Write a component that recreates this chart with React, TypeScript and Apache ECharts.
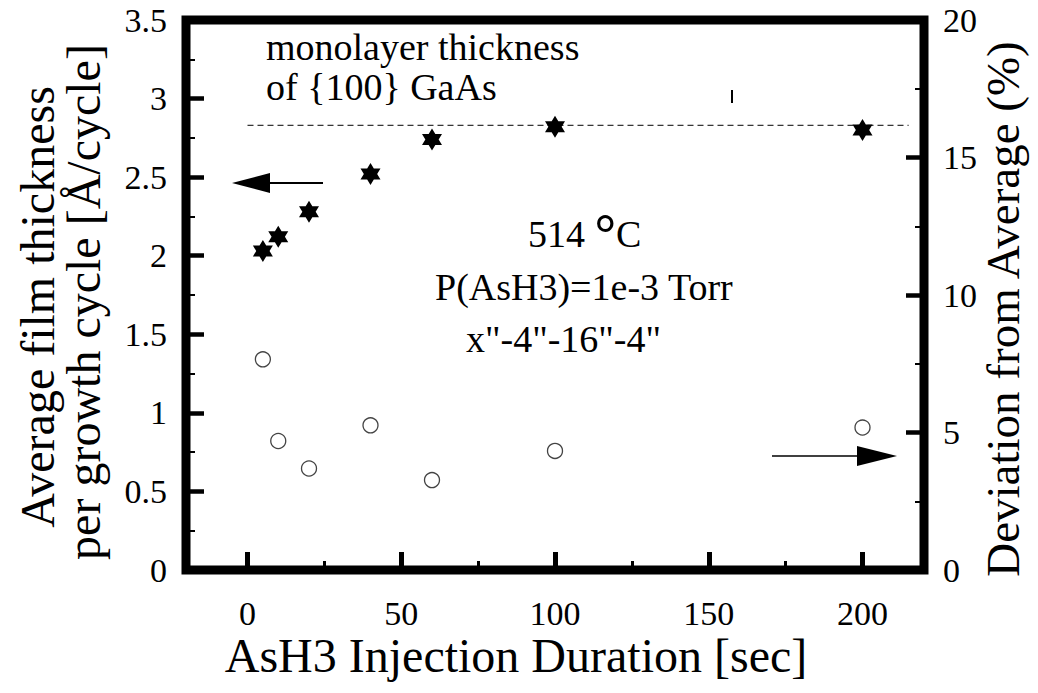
import React, { useEffect, useRef } from "react";
import * as echarts from "echarts";

// AsH3 injection duration (sec) for each growth run
const injectionDuration = [5, 10, 20, 40, 60, 100, 200];
// Average film thickness per growth cycle (Å/cycle), left axis
const filmThickness = [2.03, 2.12, 2.28, 2.52, 2.74, 2.82, 2.8];
// Deviation from average (%), right axis
const deviation = [7.66, 4.69, 3.69, 5.26, 3.27, 4.33, 5.18];
// Monolayer thickness of {100} GaAs (Å) and the span of its reference line
const monolayerThickness = 2.83;
const monolayerSpan = [0, 215];

const xMajorTicks = [0, 50, 100, 150, 200];
const xMinorTicks = [25, 75, 125, 175];

const SERIF = "Liberation Serif";
const STAR =
  "path://M0,-10L2.887,-5L8.66,-5L5.774,0L8.66,5L2.887,5L0,10L-2.887,5L-8.66,5L-5.774,0L-8.66,-5L-2.887,-5Z";
const INK = "#000";

const tickLabel = () => ({ fontSize: 34, color: INK, fontFamily: SERIF });
const majorTick = (width: number, extra: any = {}) => ({
  show: true,
  inside: true,
  length: 18,
  lineStyle: { width, color: INK },
  ...extra,
});
const minorTick = () => ({ show: true, splitNumber: 2, length: 9, lineStyle: { width: 2, color: INK } });
const hiddenLine = () => ({ show: false, onZero: false });

function text(x: number, y: number, content: string, size: number, extra: any = {}) {
  const { style, ...rest } = extra;
  return {
    type: "text",
    x,
    y,
    ...rest,
    style: {
      text: content,
      fontSize: size,
      fontFamily: SERIF,
      fill: INK,
      textAlign: "left",
      textVerticalAlign: "middle",
      ...(style || {}),
    },
  };
}

export default function App() {
  const ref = useRef<HTMLDivElement>(null);

  useEffect(() => {
    if (!ref.current) return;
    const chart = echarts.init(ref.current, null, { renderer: "svg" });

    const thicknessData = injectionDuration.map((d, i) => [d, filmThickness[i]]);
    const deviationData = injectionDuration.map((d, i) => [d, deviation[i]]);
    const monolayerData = monolayerSpan.map((d) => [d, monolayerThickness]);

    chart.setOption({
      animation: false,
      backgroundColor: "#fff",
      grid: {
        left: 186,
        top: 20,
        right: 114,
        bottom: 123,
        show: true,
        borderColor: INK,
        borderWidth: 9,
      },
      xAxis: [
        {
          type: "value",
          min: -20,
          max: 220,
          position: "bottom",
          axisLine: hiddenLine(),
          axisTick: majorTick(5, { customValues: xMajorTicks }),
          axisLabel: { ...tickLabel(), margin: 26, customValues: xMajorTicks },
          splitLine: { show: false },
        },
        {
          type: "value",
          min: -20,
          max: 220,
          position: "bottom",
          axisLine: hiddenLine(),
          axisTick: { show: true, inside: true, length: 9, customValues: xMinorTicks, lineStyle: { width: 3, color: INK } },
          axisLabel: { show: false },
          splitLine: { show: false },
        },
      ],
      yAxis: [
        {
          type: "value",
          min: 0,
          max: 3.5,
          interval: 0.5,
          position: "left",
          axisLine: hiddenLine(),
          axisTick: majorTick(4.5),
          minorTick: minorTick(),
          axisLabel: { ...tickLabel(), margin: 19 },
          splitLine: { show: false },
          minorSplitLine: { show: false },
        },
        {
          type: "value",
          min: 0,
          max: 20,
          interval: 5,
          position: "right",
          axisLine: hiddenLine(),
          axisTick: majorTick(4.5),
          minorTick: minorTick(),
          axisLabel: { ...tickLabel(), margin: 19 },
          splitLine: { show: false },
          minorSplitLine: { show: false },
        },
      ],
      series: [
        {
          name: "monolayer",
          type: "line",
          xAxisIndex: 0,
          yAxisIndex: 0,
          data: monolayerData,
          symbol: "none",
          lineStyle: { color: INK, width: 1, type: [6, 4] },
          silent: true,
          z: 1,
        },
        {
          name: "thickness",
          type: "scatter",
          xAxisIndex: 0,
          yAxisIndex: 0,
          data: thicknessData,
          symbol: STAR,
          symbolSize: [20, 22],
          itemStyle: { color: INK, opacity: 1 },
          z: 3,
        },
        {
          name: "deviation",
          type: "scatter",
          xAxisIndex: 0,
          yAxisIndex: 1,
          data: deviationData,
          symbol: "circle",
          symbolSize: 15,
          itemStyle: { color: "#fff", borderColor: "#444", borderWidth: 1.3, opacity: 1 },
          z: 3,
        },
      ],
      graphic: [
        // axis titles
        text(516, 655, "AsH3 Injection Duration [sec]", 48, { style: { textAlign: "center" } }),
        text(37, 307, "Average film thickness", 48, {
          rotation: Math.PI / 2,
          style: { textAlign: "center" },
        }),
        text(83, 302, "per growth cycle [Å/cycle]", 48, {
          rotation: Math.PI / 2,
          style: { textAlign: "center" },
        }),
        text(1003, 309, "Deviation from Average (%)", 47, {
          rotation: Math.PI / 2,
          style: { textAlign: "center" },
        }),
        // annotations
        text(266, 47, "monolayer thickness", 38),
        text(266, 87, "of {100} GaAs", 38),
        {
          type: "text",
          x: 528,
          y: 234,
          style: {
            text: "{n|514 }{d|°}{n|C}",
            textVerticalAlign: "middle",
            rich: {
              n: { fontSize: 38, fontFamily: SERIF, color: INK },
              d: { fontSize: 54, fontFamily: SERIF, fontWeight: "bold", color: INK },
            },
          },
        },
        text(435, 287, "P(AsH3)=1e-3 Torr", 38),
        text(466, 339, 'x"-4"-16"-4"', 38),
        // arrow pointing to the left axis
        { type: "line", shape: { x1: 268, y1: 183, x2: 323, y2: 183 }, style: { stroke: INK, lineWidth: 2 } },
        { type: "polygon", shape: { points: [[232, 183], [270, 173], [270, 193]] }, style: { fill: INK } },
        // arrow pointing to the right axis
        { type: "line", shape: { x1: 772, y1: 456, x2: 859, y2: 456 }, style: { stroke: INK, lineWidth: 1.5 } },
        { type: "polygon", shape: { points: [[897, 456], [857, 446], [857, 466]] }, style: { fill: INK } },
        // small stray tick mark near the top
        { type: "line", shape: { x1: 732, y1: 90, x2: 732, y2: 103 }, style: { stroke: INK, lineWidth: 2 } },
      ],
    });

    return () => chart.dispose();
  }, []);

  return (
    <div
      ref={ref}
      style={{ position: "fixed", left: 0, top: 0, width: 1038, height: 693, background: "#fff" }}
    />
  );
}
